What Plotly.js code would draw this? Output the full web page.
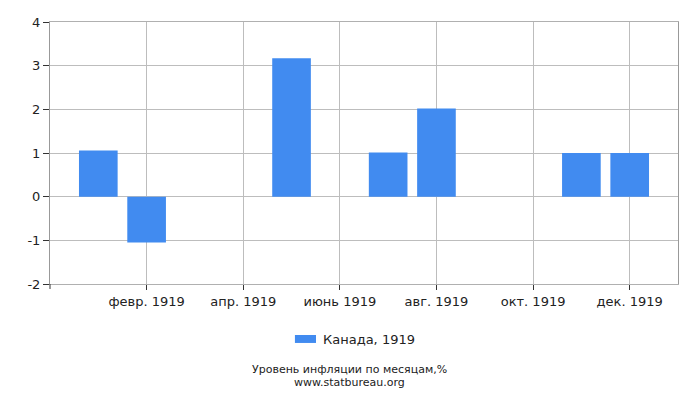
<!DOCTYPE html>
<html>
<head>
<meta charset="utf-8">
<script src="https://cdn.plot.ly/plotly-3.0.1.min.js"></script>
<style>
  html, body { margin: 0; padding: 0; background: #fff; }
  #chart { width: 700px; height: 400px; }
</style>
</head>
<body>
<div id="chart"></div>
<script>
// months of 1919, monthly inflation in %
var months = ['янв. 1919', 'февр. 1919', 'март 1919', 'апр. 1919', 'май 1919', 'июнь 1919',
              'июль 1919', 'авг. 1919', 'сент. 1919', 'окт. 1919', 'нояб. 1919', 'дек. 1919'];
var values = [1.06, -1.05, 0, 0, 3.17, 0, 1.01, 2.02, 0, 0, 1.0, 1.0];
var tickMonths = ['февр. 1919', 'апр. 1919', 'июнь 1919', 'авг. 1919', 'окт. 1919', 'дек. 1919'];
var yTicks = [-2, -1, 0, 1, 2, 3, 4];
var yTickText = ['-2', '-1', '0', '1', '2', '3', '4'];
var seriesName = 'Канада, 1919';
var titleLines = ['Уровень инфляции по месяцам,%', 'www.statbureau.org'];

var barColor = '#418BF0';
var font = 'DejaVu Sans, sans-serif';

var data = [{
	type: 'bar',
	x: months,
	y: values,
	name: seriesName,
	marker: {color: barColor},
	hoverinfo: 'none'
}];

var layout = {
	width: 700,
	height: 400,
	margin: {l: 50, r: 22, t: 22, b: 116, pad: 0},
	paper_bgcolor: '#fff',
	plot_bgcolor: '#fff',
	showlegend: false,
	bargap: 0.2,
	font: {family: font, size: 13, color: '#222'},
	xaxis: {
		type: 'category',
		categoryorder: 'array',
		categoryarray: months,
		range: [-1, 12],
		tickvals: tickMonths,
		ticktext: tickMonths,
		showgrid: true,
		gridcolor: '#bdbdbd',
		showline: true,
		linecolor: '#b0b0b0',
		mirror: true,
		ticks: 'outside',
		ticklen: 5,
		tickcolor: '#333',
		zeroline: false,
		fixedrange: true
	},
	yaxis: {
		range: [-2, 4],
		tickvals: yTicks,
		ticktext: yTickText,
		showgrid: true,
		gridcolor: '#bdbdbd',
		showline: true,
		linecolor: '#999',
		mirror: true,
		ticks: 'outside',
		ticklen: 6,
		tickcolor: '#333',
		zeroline: false,
		fixedrange: true
	},
	shapes: [
		// legend swatch
		{type: 'rect', xref: 'paper', yref: 'paper', x0: 0.390, x1: 0.4236, y0: -0.1947, y1: -0.225,
		 fillcolor: barColor, line: {width: 0}},
		// tick at left end of x axis
		{type: 'line', xref: 'paper', yref: 'paper', x0: 0, x1: 0, y0: 0, y1: -0.019,
		 line: {color: '#333', width: 1}}
	],
	annotations: [
		{xref: 'paper', yref: 'paper', x: 0.4315, y: -0.21, xanchor: 'left', yanchor: 'middle',
		 text: seriesName, showarrow: false, font: {size: 13, color: '#222'}},
		{xref: 'paper', yref: 'paper', x: 0.4777, y: -0.327, xanchor: 'center', yanchor: 'middle',
		 text: titleLines[0], showarrow: false, font: {size: 11, color: '#222'}},
		{xref: 'paper', yref: 'paper', x: 0.4777, y: -0.375, xanchor: 'center', yanchor: 'middle',
		 text: titleLines[1], showarrow: false, font: {size: 11, color: '#222'}}
	]
};

Plotly.newPlot('chart', data, layout, {displayModeBar: false, staticPlot: true});
</script>
</body>
</html>
